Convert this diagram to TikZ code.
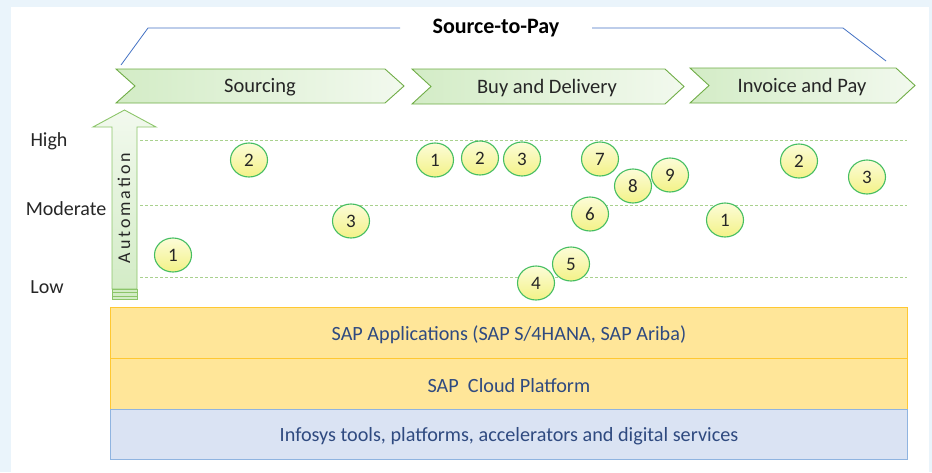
\documentclass[tikz,border=0pt]{standalone}
\usepackage{fontspec}
\setmainfont{Carlito}
\newfontfamily\spacedfont[LetterSpace=16]{Carlito}
\usetikzlibrary{calc,shapes.geometric}
\definecolor{framebg}{HTML}{EAF4FB}
\definecolor{chevline}{HTML}{70AD47}
\definecolor{chevdark}{HTML}{D3ECC6}
\definecolor{chevlight}{HTML}{F2F9EE}
\definecolor{arrowline}{HTML}{8CC56A}
\definecolor{levelline}{HTML}{A9D18E}
\definecolor{bubbleline}{HTML}{45BE62}
\definecolor{bubbletop}{HTML}{FCFCD8}
\definecolor{bubblebot}{HTML}{F3F287}
\definecolor{braceline}{HTML}{4472C4}
\definecolor{sapfill}{HTML}{FFE699}
\definecolor{sapline}{HTML}{FFC832}
\definecolor{infofill}{HTML}{DAE3F3}
\definecolor{infoline}{HTML}{8FB4E0}
\definecolor{layertext}{HTML}{2F4A80}
\definecolor{darktext}{HTML}{262626}
\tikzset{
  chev/.style={draw=chevline, line width=0.9pt, left color=chevdark, right color=chevlight},
  chevtext/.style={font=\fontsize{20.5}{24}\selectfont, text=darktext},
  bubble/.style={draw=bubbleline, line width=1.1pt, top color=bubbletop, bottom color=bubblebot,
     ellipse, minimum width=37pt, minimum height=34pt, inner sep=0pt,
     font=\fontsize{19}{22}\selectfont, text=darktext},
  level/.style={draw=levelline, line width=1pt, dash pattern=on 3pt off 2pt},
  leveltext/.style={font=\fontsize{20}{24}\selectfont, text=darktext},
  layer/.style={font=\fontsize{20.2}{24}\selectfont, text=layertext},
  layerbox/.style={line width=0.8pt, minimum width=797pt, inner sep=0pt, anchor=north west},
  brace/.style={draw=braceline, line width=0.8pt},
}
\begin{document}
\begin{tikzpicture}[x=1pt, y=-1pt]
  % page frame
  \useasboundingbox (0,0) rectangle (932,472);
  \fill[framebg] (0,0) rectangle (932,472);
  \fill[white] (11,7) rectangle (929,472);

  % process title and its bracket
  \node[font=\fontsize{22}{26}\selectfont\bfseries, text=black] (title) at (496,28) {Source-to-Pay};
  \coordinate (bl0) at (121,65);
  \coordinate (bl1) at (148,28);
  \coordinate (bl2) at (400,28);
  \coordinate (br0) at (592,28);
  \coordinate (br1) at (843,28);
  \coordinate (br2) at (886,61);
  \draw[brace] (bl0) -- (bl1) -- (bl2);
  \draw[brace] (br0) -- (br1) -- (br2);

  % process phases
  \path[chev] (116,69) -- (385,69) -- (404,86) -- (385,103) -- (116,103) -- (135,86) -- cycle;
  \path[chev] (412,69) -- (665,69) -- (684,86.5) -- (665,104) -- (412,104) -- (431,86.5) -- cycle;
  \path[chev] (690,68) -- (896,68) -- (915,85.5) -- (896,103) -- (690,103) -- (709,85.5) -- cycle;
  \node[chevtext] (sourcing) at (260,87.5) {Sourcing};
  \node[chevtext] (buy) at (547,88.5) {Buy and Delivery};
  \node[chevtext] (invoice) at (802,87.5) {Invoice and Pay};

  % automation axis
  \path[draw=arrowline, line width=0.9pt, bottom color=chevdark, top color=chevlight]
     (112,289) -- (112,127) -- (93,127) -- (124.5,110) -- (156,127) -- (137,127) -- (137,289) -- cycle;
  \fill[chevdark] (112,289) rectangle (137,300);
  \foreach \yy in {289,292.5,296,299.5}
    \draw[arrowline, line width=0.9pt] (112,\yy) -- (137,\yy);
  \draw[arrowline, line width=0.9pt] (112,289) -- (112,300) (137,289) -- (137,300);
  \node[rotate=90, font=\spacedfont\fontsize{18}{20}\selectfont, text=darktext] (auto) at (124,208) {Automation};

  % automation levels
  \node[leveltext] (high) at (49,141.5) {High};
  \node[leveltext] (moderate) at (66,208.5) {Moderate};
  \node[leveltext] (low) at (47,287.5) {Low};
  \draw[level] (140,140) -- (907,140);
  \draw[level] (140,205) -- (907,205);
  \draw[level] (140,277) -- (907,277);

  % sourcing use cases
  \node[bubble] (s2) at (249,160) {2};
  \node[bubble] (s3) at (351,221) {3};
  \node[bubble] (s1) at (173,255) {1};
  % buy and delivery use cases
  \node[bubble] (b1) at (435,160) {1};
  \node[bubble] (b2) at (480,158) {2};
  \node[bubble] (b3) at (522,159) {3};
  \node[bubble] (b7) at (600,159) {7};
  \node[bubble] (b8) at (633,186) {8};
  \node[bubble] (b9) at (670,175) {9};
  \node[bubble] (b6) at (590,214) {6};
  \node[bubble] (b5) at (571,264) {5};
  \node[bubble] (b4) at (536,283) {4};
  % invoice and pay use cases
  \node[bubble] (i1) at (725,220) {1};
  \node[bubble] (i2) at (799,161) {2};
  \node[bubble] (i3) at (867,177) {3};

  % platform layers
  \node[layerbox, draw=sapline, fill=sapfill, minimum height=51pt] (apps) at (110,307) {};
  \node[layerbox, draw=sapline, fill=sapfill, minimum height=51pt] (cloud) at (110,358) {};
  \node[layerbox, draw=infoline, fill=infofill, line width=1pt, minimum height=50pt] (infosys) at (110,409) {};
  \node[layer] at ([yshift=-1.5pt]apps.center) {SAP Applications (SAP S/4HANA, SAP Ariba)};
  \node[layer] at ([yshift=-1.5pt]cloud.center) {SAP\ \ Cloud Platform};
  \node[layer] at ([yshift=-1.5pt]infosys.center) {Infosys tools, platforms, accelerators and digital services};
\end{tikzpicture}
\end{document}
